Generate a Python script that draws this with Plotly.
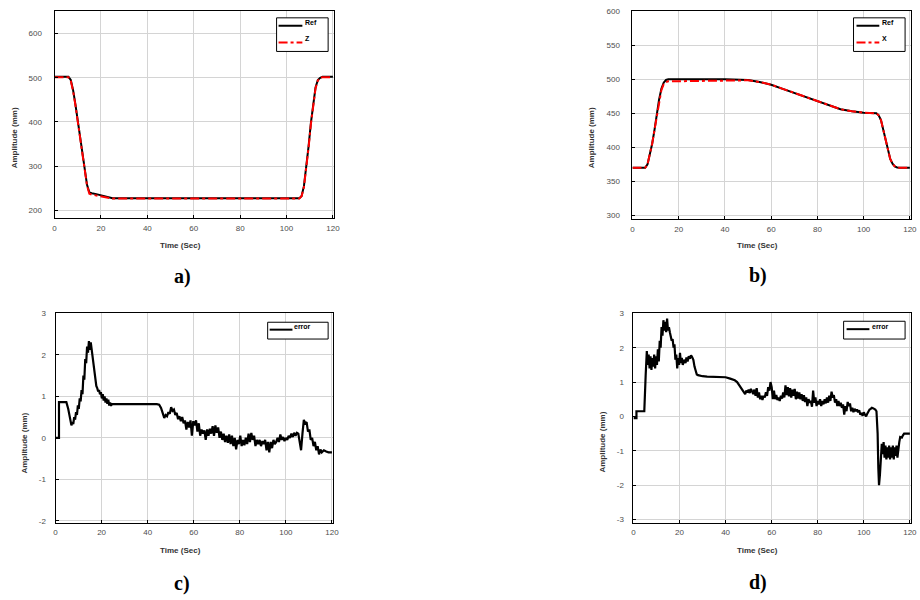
import plotly.graph_objects as go

# ---------------- data ----------------
# a) Ref and Z
t_a = [0, 6, 7, 8, 9, 10, 11, 12, 13, 14, 15, 16, 18, 20, 22, 24, 25, 105.5, 106.5, 107.5,
       108.5, 109.5, 110.5, 111.5, 112.5, 113.5, 114.5, 115.5, 116, 120]
ref_a = [502, 502, 495, 472, 440, 403, 362, 322, 285, 258, 241, 239, 237, 234, 231, 228.5, 227.5, 227.5, 233, 255,
         295, 345, 398, 445, 478, 495, 500, 502, 502, 502]
z_a = [501, 501, 493, 470, 438, 400, 360, 320, 283, 256, 238, 236, 234, 232, 230, 228, 227, 227, 232, 253,
       292, 342, 395, 443, 476, 494, 500, 501, 501, 501]

# b) Ref and X
t_b = [0, 5.5, 6.5, 7.5, 8.5, 9.5, 10.5, 11.5, 12.5, 13.5, 14.5, 15.5, 40, 47, 50, 55, 60, 65, 70, 75,
       80, 85, 90, 95, 100, 105.5, 106.5, 107.5, 108.5, 109.5, 110.5, 111.5, 112.5, 113.5, 114.5, 115.5, 120]
ref_b = [370, 370, 375, 388, 405, 425, 448, 470, 486, 495, 499, 500, 500, 500, 499, 496, 492, 486, 480, 473,
         467, 461, 456, 453, 451, 450, 447, 440, 425, 408, 394, 383, 376, 372, 370.5, 370, 370]
x_b = [370, 370, 375, 388, 405, 425, 447, 468, 484, 493, 496, 497, 498, 499, 498.5, 496, 492, 486, 480, 473,
       467, 461, 456, 453, 451, 450, 447, 440, 425, 408, 394, 383, 376, 372, 370.5, 370, 370]

# c) error
t_c = [0, 1.5, 1.5, 4.7, 5.5, 6.2, 6.9, 7.3, 7.7, 8.1,
       8.5, 8.9, 9.3, 9.7, 10.1, 10.5, 10.9, 11.3, 11.7, 12.1,
       12.5, 12.9, 13.3, 13.7, 14.1, 14.5, 14.9, 15.3, 15.7, 16.1,
       16.5, 16.9, 17.3, 17.7, 18.1, 18.5, 18.9, 19.3, 19.7, 20.1,
       20.5, 20.9, 21.3, 21.7, 22.1, 22.5, 22.9, 23.3, 23.7, 24.1,
       24.5, 25, 30, 35, 40, 44, 45, 45.8, 46.5, 47.2,
       47.8, 48.4, 49, 49.6, 50.2, 50.8, 51.4, 52, 52.6, 53.2,
       53.8, 54.4, 55, 55.6, 56.2, 56.8, 57.4, 58, 58.6, 59.2,
       59.8, 60.4, 61, 61.6, 62.2, 62.8, 63.4, 64, 64.6, 65.2,
       65.8, 66.4, 67, 67.6, 68.2, 68.8, 69.4, 70, 70.6, 71.2,
       71.8, 72.4, 73, 73.6, 74.2, 74.8, 75.4, 76, 76.6, 77.2,
       77.8, 78.4, 79, 79.6, 80.2, 80.8, 81.4, 82, 82.6, 83.2,
       83.8, 84.4, 85, 85.6, 86.2, 86.8, 87.4, 88, 88.6, 89.2,
       89.8, 90.4, 91, 91.6, 92.2, 92.8, 93.4, 94, 94.6, 95.2,
       95.8, 96.4, 97, 97.6, 98.2, 98.8, 99.4, 100, 100.6, 101.2,
       101.8, 102.4, 103, 103.6, 104.2, 104.8, 105.4, 106, 106.6, 107.2,
       107.8, 108.4, 109, 109.6, 110.2, 110.8, 111.4, 112, 112.6, 113.2,
       113.8, 114.4, 115, 115.6, 116.5, 117.5, 118.5, 120]
e_c = [0, 0, 0.86, 0.86, 0.7, 0.45, 0.3, 0.38, 0.33, 0.5,
       0.44, 0.62, 0.55, 0.78, 0.7, 0.95, 0.88, 1.15, 1.05, 1.5,
       1.4, 1.9, 1.8, 2.2, 2.05, 2.33, 2.12, 2.3, 2.1, 2.05,
       1.8, 1.55, 1.3, 1.25, 1.2, 1.12, 1.15, 1.05, 1.1, 0.95,
       1.05, 0.9, 1.0, 0.85, 0.95, 0.82, 0.92, 0.78, 0.85, 0.77,
       0.82, 0.82, 0.82, 0.82, 0.815, 0.81, 0.8, 0.72, 0.6, 0.48,
       0.55, 0.52, 0.62, 0.58, 0.74, 0.65, 0.68, 0.55, 0.6, 0.45,
       0.52, 0.4, 0.5, 0.35, 0.42, 0.2, 0.38, 0.25, 0.42, 0.05,
       0.4, 0.3, 0.42, 0.15, 0.35, 0.05, 0.2, 0.1, 0.18, -0.05,
       0.2, 0.05, 0.22, 0.1, 0.28, 0.05, 0.3, 0.12, 0.25, 0.0,
       0.15, -0.05, 0.1, -0.1, 0.05, -0.12, 0.08, -0.15, 0.05, -0.2,
       0.0, -0.28, -0.05, -0.15, 0.05, -0.2, -0.05, -0.18, 0.0, -0.15,
       0.1, -0.1, 0.12, -0.05, 0.05, -0.2, -0.05, -0.15, -0.05, -0.2,
       -0.08, -0.15, -0.05, -0.3, -0.1, -0.35, -0.1, -0.25, -0.05, -0.15,
       -0.1, 0.0, -0.1, 0.08, -0.05, 0.02, -0.08, 0.0, -0.05, 0.05,
       0.0, 0.1, 0.02, 0.12, 0.05, 0.12, 0.1, -0.1, -0.3, 0.1,
       0.43, 0.35, 0.38, 0.15, 0.2, -0.05, 0.0, -0.2, -0.1, -0.3,
       -0.2, -0.4, -0.28, -0.35, -0.3, -0.33, -0.35, -0.35]

# d) error
t_d = [0, 1.3, 1.3, 4.7, 5.3, 5.8, 6.2, 6.6, 7.0, 7.4,
       7.8, 8.2, 8.6, 9.0, 9.4, 9.8, 10.2, 10.6, 11.0, 11.4,
       11.8, 12.2, 12.6, 13.0, 13.4, 13.8, 14.2, 14.6, 15.0, 15.4,
       15.8, 16.2, 16.6, 17.0, 17.4, 17.8, 18.2, 18.6, 19.0, 19.4,
       19.8, 20.2, 20.6, 21.0, 21.4, 21.8, 22.2, 22.6, 23.0, 23.5,
       24.0, 24.5, 25.0, 25.5, 26.0, 26.5, 27.0, 27.5, 28.0, 29,
       30, 32, 35, 38, 40, 42, 44, 45, 46, 47,
       48, 48.5, 49, 49.5, 50, 50.5, 51, 51.5, 52, 52.5,
       53, 53.5, 54, 54.5, 55, 55.5, 56, 56.5, 57, 57.5,
       58, 58.5, 59, 59.5, 60, 60.5, 61, 61.5, 62, 62.5,
       63, 63.5, 64, 64.5, 65, 65.5, 66, 66.5, 67, 67.5,
       68, 68.5, 69, 69.5, 70, 70.5, 71, 71.5, 72, 72.5,
       73, 73.5, 74, 74.5, 75, 75.5, 76, 76.5, 77, 77.5,
       78, 78.5, 79, 79.5, 80, 80.5, 81, 81.5, 82, 82.5,
       83, 83.5, 84, 84.5, 85, 85.5, 86, 86.5, 87, 87.5,
       88, 88.5, 89, 89.5, 90, 90.5, 91, 91.5, 92, 92.5,
       93, 93.5, 94, 94.5, 95, 95.5, 96, 96.5, 97, 97.5,
       98, 98.5, 99, 99.5, 100, 100.5, 101, 101.5, 102, 102.5,
       103, 103.5, 104, 104.5, 105, 105.5, 106, 106.3, 106.6, 107,
       107.4, 107.8, 108.2, 108.6, 109, 109.4, 109.8, 110.2, 110.6, 111,
       111.4, 111.8, 112.2, 112.6, 113, 113.4, 113.8, 114.2, 114.6, 115,
       115.4, 115.8, 116.5, 117, 117.5, 120]
e_d = [-0.05, -0.05, 0.15, 0.15, 1.2, 1.9, 1.5, 1.8, 1.4, 1.75,
       1.35, 1.7, 1.45, 1.8, 1.4, 1.75, 1.5, 1.95, 1.6, 2.2,
       2.0, 2.6, 2.35, 2.8, 2.5, 2.75, 2.45, 2.85, 2.5, 2.6,
       2.45, 2.35, 2.2, 2.25, 2.0, 2.1, 1.65, 1.8, 1.4, 1.7,
       1.5, 1.85, 1.55, 1.7, 1.5, 1.6, 1.65, 1.55, 1.72, 1.6,
       1.75, 1.68, 1.78, 1.72, 1.65, 1.45, 1.3, 1.22, 1.2, 1.18,
       1.17, 1.16, 1.15, 1.15, 1.14, 1.1, 1.05, 1.0, 0.9, 0.78,
       0.68, 0.65, 0.75, 0.7, 0.78, 0.68, 0.8, 0.72, 0.65, 0.78,
       0.6, 0.82, 0.55, 0.7, 0.5, 0.6, 0.48, 0.6, 0.55, 0.7,
       0.6, 0.85, 0.75, 1.0, 0.85, 0.5, 0.75, 0.5, 0.62, 0.48,
       0.55, 0.45, 0.6, 0.52, 0.7, 0.55, 0.9, 0.62, 0.85, 0.58,
       0.82, 0.55, 0.78, 0.6, 0.8, 0.5, 0.72, 0.52, 0.7, 0.5,
       0.65, 0.45, 0.62, 0.42, 0.55, 0.3, 0.5, 0.4, 0.45, 0.28,
       0.75, 0.4, 0.55, 0.3, 0.45, 0.35, 0.5, 0.3, 0.45, 0.35,
       0.5, 0.38, 0.55, 0.4, 0.6, 0.45, 0.72, 0.55, 0.62, 0.4,
       0.5, 0.3, 0.45, 0.3, 0.4, 0.25, 0.35, 0.05, 0.3, 0.15,
       0.42, 0.3, 0.38, 0.15, 0.25, 0.12, 0.22, 0.15, 0.2, 0.12,
       0.18, 0.05, 0.1, 0.02, 0.12, 0.05, 0.0, 0.08, 0.15, 0.2,
       0.22, 0.25, 0.24, 0.22, 0.2, 0.15, -0.5, -1.5, -2.0, -1.7,
       -1.2, -0.8, -1.1, -0.75, -1.2, -0.85, -1.25, -0.9, -1.2, -0.85,
       -1.25, -0.9, -1.2, -0.85, -1.25, -0.9, -1.15, -0.85, -1.2, -0.85,
       -0.75, -0.6, -0.62, -0.55, -0.5, -0.5]

x_ticks = [0, 20, 40, 60, 80, 100, 120]
y_ticks_a = [200, 300, 400, 500, 600]
y_ticks_b = [300, 350, 400, 450, 500, 550, 600]
y_ticks_c = [-2, -1, 0, 1, 2, 3]
y_ticklabels_c = ["-2", "-1", "0", "1", "2", "3"]
y_ticks_d = [-3, -2, -1, 0, 1, 2, 3]
y_ticklabels_d = ["-3", "-2", "-1", "0", "1", "2", "3"]
panel_labels = ["a)", "b)", "c)", "d)"]
legend_names_a = ["Ref", "Z"]
legend_names_b = ["Ref", "X"]
legend_name_err = "error"

assert len(t_a) == len(ref_a) == len(z_a)
assert len(t_b) == len(ref_b) == len(x_b)
assert len(t_c) == len(e_c)
assert len(t_d) == len(e_d)

# ---------------- figure ----------------
W, H = 920, 600
FONT = "Liberation Sans, Arial, sans-serif"
RED = "#ff0000"


def px_x(p):
    return p / W


def px_y(p):
    return 1 - p / H


fig = go.Figure()

fig.add_trace(go.Scatter(x=t_a, y=ref_a, mode="lines", name=legend_names_a[0],
                         line=dict(color="black", width=2), xaxis="x", yaxis="y"))
fig.add_trace(go.Scatter(x=t_a, y=z_a, mode="lines", name=legend_names_a[1],
                         line=dict(color=RED, width=2, dash="dashdot"), xaxis="x", yaxis="y"))
fig.add_trace(go.Scatter(x=t_b, y=ref_b, mode="lines", name=legend_names_b[0],
                         line=dict(color="black", width=2), xaxis="x2", yaxis="y2"))
fig.add_trace(go.Scatter(x=t_b, y=x_b, mode="lines", name=legend_names_b[1],
                         line=dict(color=RED, width=2, dash="dashdot"), xaxis="x2", yaxis="y2"))
fig.add_trace(go.Scatter(x=t_c, y=e_c, mode="lines", name=legend_name_err,
                         line=dict(color="black", width=2.2), xaxis="x3", yaxis="y3"))
fig.add_trace(go.Scatter(x=t_d, y=e_d, mode="lines", name=legend_name_err,
                         line=dict(color="black", width=2.2), xaxis="x4", yaxis="y4"))

tickfont = dict(family=FONT, size=8, color="#4d4d4d")


def xax(dom, anchor):
    return dict(domain=dom, anchor=anchor, range=[0, 120.5], tickvals=x_ticks,
                showline=True, linecolor="black", linewidth=1, mirror=True,
                showgrid=True, gridcolor="#d4d4d4", gridwidth=1, zeroline=False,
                ticks="inside", ticklen=3, tickcolor="black", tickfont=tickfont,
                ticklabelstandoff=2)


def yax(dom, anchor, rng, tv, standoff, tt=None):
    d = dict(domain=dom, anchor=anchor, range=rng, tickvals=tv,
             showline=True, linecolor="black", linewidth=1, mirror=True,
             showgrid=True, gridcolor="#d4d4d4", gridwidth=1, zeroline=False,
             ticks="inside", ticklen=3, tickcolor="black", tickfont=tickfont,
             ticklabelstandoff=standoff)
    if tt is not None:
        d["ticktext"] = tt
    return d


top_row = [px_y(217), px_y(7)]
bot_row = [px_y(525), px_y(313)]

fig.update_layout(
    width=W, height=H, margin=dict(l=0, r=0, t=0, b=0),
    paper_bgcolor="white", plot_bgcolor="white", showlegend=False,
    xaxis=xax([px_x(53), px_x(335)], "y"),
    yaxis=yax(top_row, "x", [182, 651], y_ticks_a, 10),
    xaxis2=xax([px_x(636), px_x(917)], "y2"),
    yaxis2=yax([px_y(218), px_y(7)], "x2", [294, 600.5], y_ticks_b, 10),
    xaxis3=xax([px_x(54), px_x(334)], "y3"),
    yaxis3=yax(bot_row, "x3", [-2.05, 3.0], y_ticks_c, 7, y_ticklabels_c),
    xaxis4=xax([px_x(637), px_x(917)], "y4"),
    yaxis4=yax(bot_row, "x4", [-3.1, 3.0], y_ticks_d, 7, y_ticklabels_d),
)

ann = []
shapes = []

# y axis titles
for (x, y) in [(13, 135), (595, 135), (23, 444), (606, 443)]:
    ann.append(dict(text="<b>Amplitude (mm)</b>", x=px_x(x), y=px_y(y), xref="paper", yref="paper",
                    showarrow=False, textangle=-90, font=dict(family=FONT, size=8, color="#333333"),
                    xanchor="center", yanchor="middle"))
# x axis titles
for (x, y) in [(180, 244), (762, 244), (180, 553), (762, 553)]:
    ann.append(dict(text="<b>Time (Sec)</b>", x=px_x(x), y=px_y(y), xref="paper", yref="paper",
                    showarrow=False, font=dict(family=FONT, size=8, color="#333333"),
                    xanchor="center", yanchor="middle"))
# panel labels
for lab, (x, y) in zip(panel_labels, [(182, 276), (763, 275), (182, 586), (763, 585)]):
    ann.append(dict(text="<b>" + lab + "</b>", x=px_x(x), y=px_y(y), xref="paper", yref="paper",
                    showarrow=False, font=dict(family="Liberation Serif, Times New Roman, serif", size=20,
                                               color="black"),
                    xanchor="center", yanchor="middle"))


# legend boxes (box, entries: (name, color, dash, line_y, text_y))
def legend_box(x0, y0, x1, y1, lx0, lx1, tx, entries):
    shapes.append(dict(type="rect", xref="paper", yref="paper", x0=px_x(x0), x1=px_x(x1),
                       y0=px_y(y1), y1=px_y(y0), line=dict(color="black", width=1),
                       fillcolor="white", layer="above"))
    for name, color, dash, ly, ty in entries:
        shapes.append(dict(type="line", xref="paper", yref="paper", x0=px_x(lx0), x1=px_x(lx1),
                           y0=px_y(ly), y1=px_y(ly), line=dict(color=color, width=2, dash=dash),
                           layer="above"))
        ann.append(dict(text="<b>" + name + "</b>", x=px_x(tx), y=px_y(ty), xref="paper", yref="paper",
                        showarrow=False, xanchor="left", yanchor="middle",
                        font=dict(family=FONT, size=7, color="black")))


legend_box(277, 14, 329, 48, 279, 303, 303.5,
           [(legend_names_a[0], "black", "solid", 22, 19), (legend_names_a[1], RED, "dashdot", 39, 35)])
legend_box(859, 14, 911, 48, 862, 885, 885.5,
           [(legend_names_b[0], "black", "solid", 22, 19), (legend_names_b[1], RED, "dashdot", 39, 35)])
legend_box(268, 322, 329, 339, 270, 293, 293,
           [(legend_name_err, "black", "solid", 329.5, 326)])
legend_box(849, 321, 911, 339, 852, 875, 876,
           [(legend_name_err, "black", "solid", 329, 326)])

fig.update_layout(annotations=ann, shapes=shapes)

fig.write_html("out.html", config={"displayModeBar": False},
               post_script="document.body.style.margin='0';document.body.style.overflow='hidden';")
